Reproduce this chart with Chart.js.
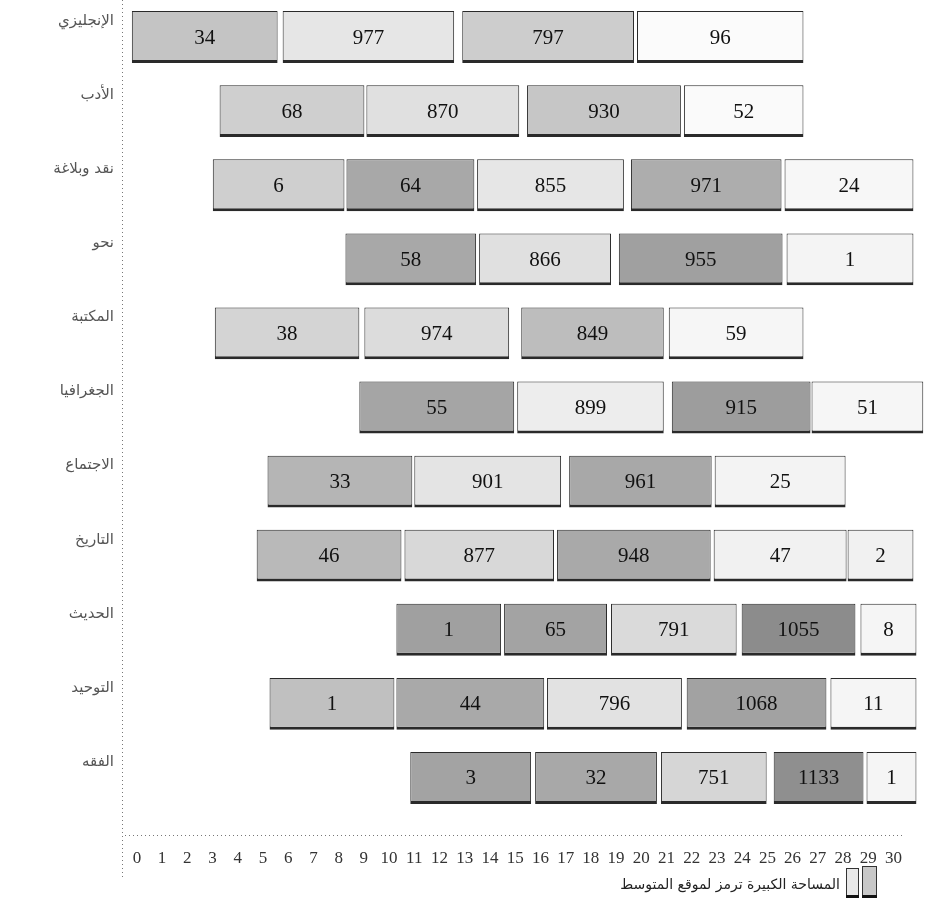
<!DOCTYPE html>
<html lang="ar">
<head>
<meta charset="utf-8">
<title>توزيع الرسائل</title>
<script src="https://cdn.jsdelivr.net/npm/chart.js@4.4.1/dist/chart.umd.min.js"></script>
<style>
    html, body { margin: 0; padding: 0; background: #fff; }
    #wrap { width: 926px; height: 903px; position: relative; }
</style>
</head>
<body>
<div id="wrap"><canvas id="rangeChart"></canvas></div>
<script>
// categories, top to bottom
const categories = ['الإنجليزي', 'الأدب', 'نقد وبلاغة', 'نحو', 'المكتبة', 'الجغرافيا', 'الاجتماع', 'التاريخ', 'الحديث', 'التوحيد', 'الفقه'];

// numbers written inside each box
const counts = [
    [34, 977, 797, 96],
    [68, 870, 930, 52],
    [6, 64, 855, 971, 24],
    [58, 866, 955, 1],
    [38, 974, 849, 59],
    [55, 899, 915, 51],
    [33, 901, 961, 25],
    [46, 877, 948, 47, 2],
    [1, 65, 791, 1055, 8],
    [1, 44, 796, 1068, 11],
    [3, 32, 751, 1133, 1]
];

// [from, to] of each box on the 0-30 scale
const spans = [
    [[-0.2, 5.58], [5.78, 12.58], [12.9, 19.71], [19.83, 26.43]],
    [[3.28, 9.02], [9.1, 15.16], [15.47, 21.57], [21.69, 26.43]],
    [[3.01, 8.23], [8.31, 13.38], [13.49, 19.31], [19.59, 25.56], [25.68, 30.79]],
    [[8.27, 13.45], [13.57, 18.8], [19.11, 25.6], [25.76, 30.79]],
    [[3.09, 8.82], [9.02, 14.76], [15.24, 20.89], [21.09, 26.43]],
    [[8.82, 14.96], [15.08, 20.89], [21.21, 26.71], [26.75, 31.18]],
    [[5.18, 10.92], [11.0, 16.82], [17.14, 22.79], [22.91, 28.1]],
    [[4.75, 10.49], [10.61, 16.54], [16.66, 22.75], [22.87, 28.14], [28.18, 30.79]],
    [[10.29, 14.44], [14.56, 18.64], [18.8, 23.78], [23.98, 28.49], [28.69, 30.91]],
    [[5.26, 10.21], [10.29, 16.15], [16.26, 21.61], [21.8, 27.34], [27.5, 30.91]],
    [[10.84, 15.63], [15.79, 20.62], [20.78, 24.97], [25.25, 28.81], [28.93, 30.91]]
];

const xTicks = Array.from({ length: 31 }, (_, i) => i);

const legendText = 'المساحة الكبيرة ترمز لموقع المتوسط';

// grey level of every box (style only)
const shades = [
    ['#c4c4c4', '#e6e6e6', '#cdcdcd', '#fbfbfb'],
    ['#cfcfcf', '#e0e0e0', '#c6c6c6', '#fafafa'],
    ['#cfcfcf', '#a8a8a8', '#e6e6e6', '#adadad', '#f7f7f7'],
    ['#a8a8a8', '#e0e0e0', '#a0a0a0', '#f4f4f4'],
    ['#d4d4d4', '#dcdcdc', '#bdbdbd', '#f6f6f6'],
    ['#a5a5a5', '#ededed', '#9d9d9d', '#f6f6f6'],
    ['#b5b5b5', '#e4e4e4', '#a8a8a8', '#f3f3f3'],
    ['#b9b9b9', '#d8d8d8', '#a9a9a9', '#f1f1f1', '#f1f1f1'],
    ['#a0a0a0', '#a3a3a3', '#dadada', '#8c8c8c', '#f5f5f5'],
    ['#c0c0c0', '#a9a9a9', '#e2e2e2', '#a2a2a2', '#f5f5f5'],
    ['#a3a3a3', '#a8a8a8', '#d6d6d6', '#8f8f8f', '#f5f5f5']
];

const maxSegs = Math.max(...spans.map(r => r.length));
const datasets = [];
for (let k = 0; k < maxSegs; k++) {
    datasets.push({
        label: 'seg' + k,
        data: spans.map(r => r[k] || null),
        backgroundColor: shades.map(r => r[k] || '#fff'),
        borderColor: '#2a2a2a',
        borderWidth: { top: 1, left: 1, right: 1, bottom: 3 },
        borderSkipped: false,
        grouped: false,
        barPercentage: 0.7,
        categoryPercentage: 1
    });
}

// category names, numbers inside boxes, dotted frame lines, legend
const decor = {
    id: 'decor',
    afterDatasetsDraw(chart) {
        const ctx = chart.ctx;
        const yScale = chart.scales.y;
        ctx.save();

        ctx.font = '15px "DejaVu Sans"';
        ctx.fillStyle = '#555';
        ctx.textAlign = 'right';
        ctx.textBaseline = 'middle';
        ctx.direction = 'rtl';
        categories.forEach((name, i) => {
            ctx.fillText(name, 114, yScale.getPixelForValue(i) - 16);
        });

        ctx.direction = 'ltr';
        ctx.font = '21px "Liberation Serif"';
        ctx.fillStyle = '#111';
        ctx.textAlign = 'center';
        chart.data.datasets.forEach((ds, k) => {
            chart.getDatasetMeta(k).data.forEach((bar, i) => {
                if (!ds.data[i]) return;
                const cx = (bar.x + bar.base) / 2;
                ctx.fillText(String(counts[i][k]), cx, bar.y + 1);
            });
        });
        ctx.restore();
    },
    afterDraw(chart) {
        const ctx = chart.ctx;
        ctx.save();
        ctx.strokeStyle = '#777';
        ctx.lineWidth = 1;
        ctx.setLineDash([1, 3]);
        ctx.beginPath();
        ctx.moveTo(122.5, 0);
        ctx.lineTo(122.5, 880);
        ctx.moveTo(125, 835.5);
        ctx.lineTo(905, 835.5);
        ctx.stroke();
        ctx.setLineDash([]);

        // legend boxes
        ctx.fillStyle = '#e8e8e8';
        ctx.fillRect(846, 868, 12, 28);
        ctx.fillStyle = '#c8c8c8';
        ctx.fillRect(862, 866, 14, 30);
        ctx.strokeStyle = '#333';
        ctx.strokeRect(846.5, 868.5, 12, 28);
        ctx.strokeRect(862.5, 866.5, 14, 30);
        ctx.fillStyle = '#111';
        ctx.fillRect(846, 895, 13, 3);
        ctx.fillRect(862, 895, 15, 3);

        ctx.font = '14px "DejaVu Sans"';
        ctx.fillStyle = '#222';
        ctx.textAlign = 'right';
        ctx.textBaseline = 'middle';
        ctx.direction = 'rtl';
        ctx.fillText(legendText, 840, 885);
        ctx.restore();
    }
};

new Chart(document.getElementById('rangeChart'), {
    type: 'bar',
    data: { labels: categories, datasets: datasets },
    options: {
        indexAxis: 'y',
        responsive: true,
        maintainAspectRatio: false,
        animation: false,
        layout: { padding: 0 },
        plugins: {
            legend: { display: false },
            tooltip: { enabled: false }
        },
        scales: {
            x: {
                type: 'linear',
                min: -0.59,
                max: 31.23,
                grid: { display: false, drawTicks: true, tickLength: 9 },
                border: { display: false },
                afterBuildTicks: (scale) => { scale.ticks = xTicks.map(v => ({ value: v })); },
                afterFit: (scale) => { scale.height = 88; },
                ticks: {
                    padding: 24,
                    autoSkip: false,
                    maxRotation: 0,
                    color: '#333',
                    font: { family: 'Liberation Serif', size: 17 }
                }
            },
            y: {
                grid: { display: false, drawTicks: false },
                border: { display: false },
                afterFit: (scale) => { scale.width = 122; },
                ticks: { display: false }
            }
        }
    },
    plugins: [decor]
});
</script>
</body>
</html>
